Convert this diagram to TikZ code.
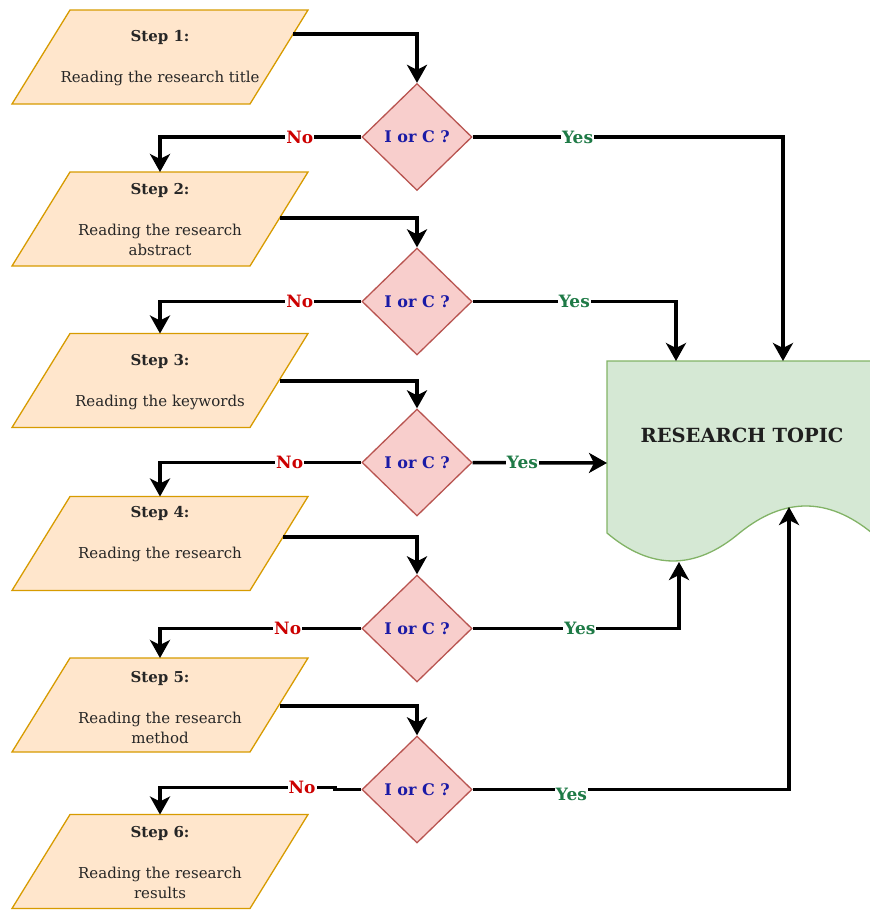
\documentclass[tikz,border=0pt]{standalone}
\usepackage{fontspec}
\setmainfont{DejaVu Serif}
\usetikzlibrary{shapes.geometric,arrows.meta,calc}
\definecolor{stepfill}{HTML}{FFE6CC}
\definecolor{stepline}{HTML}{D79B00}
\definecolor{diafill}{HTML}{F8CECC}
\definecolor{dialine}{HTML}{B85450}
\definecolor{docfill}{HTML}{D5E8D4}
\definecolor{docline}{HTML}{82B366}
\definecolor{nored}{HTML}{CC0000}
\definecolor{yesgreen}{HTML}{1E7A46}
\definecolor{qblue}{HTML}{1A1AA6}
\definecolor{txtgray}{HTML}{262626}
\newcommand\stepshape[5]{% name, cx, cy, text y, text
  \filldraw[stepdraw] (#2-90,#3-47) -- (#2+148,#3-47) -- (#2+90,#3+47) -- (#2-148,#3+47) -- cycle;
  \node[steptext] (#1) at (#2,#4) {#5};}
\begin{document}
\begin{tikzpicture}[x=1pt,y=-1pt,
  stepdraw/.style={fill=stepfill,draw=stepline,line width=1.3pt},
  steptext/.style={align=center,text=txtgray,font=\fontsize{15}{20.5}\selectfont,inner sep=0pt},
  decision/.style={diamond,fill=diafill,draw=dialine,line width=1.3pt,minimum width=110pt,minimum height=107pt,inner sep=0pt,
    text=qblue,font=\fontsize{16}{18}\selectfont\bfseries},
  arr/.style={line width=3.5pt,-{Stealth[length=18pt,width=20pt,inset=5pt]}},
  nolab/.style={fill=white,inner sep=1pt,text=nored,font=\fontsize{17}{18}\selectfont\bfseries},
  yeslab/.style={fill=white,inner sep=1pt,text=yesgreen,font=\fontsize{17}{18}\selectfont\bfseries}]
\useasboundingbox (0,0) rectangle (870,911);

% research topic document
\filldraw[fill=docfill,draw=docline,line width=1.3pt]
  (607,361) -- (872,361) -- (872,533)
  .. controls (828,497) and (783.8,497) .. (739.5,533)
  .. controls (695.2,570.3) and (651,570.3) .. (607,533) -- cycle;
\node[font=\fontsize{19.5}{22}\selectfont\bfseries,text=black!88] (topic) at (742,435) {RESEARCH TOPIC};
\coordinate (tin1) at (783,361);
\coordinate (tin2) at (676,361);
\coordinate (tin3) at (607,463);
\coordinate (tin4) at (679,562);
\coordinate (tin5) at (789,507);

% steps
\stepshape{s1}{160}{57}{58}{\textbf{Step 1:}\\[20.5pt]Reading the research title}
\stepshape{s2}{160}{219}{219.5}{\textbf{Step 2:}\\[20.5pt]Reading the research\\abstract}
\stepshape{s3}{160}{380.5}{382.5}{\textbf{Step 3:}\\[20.5pt]Reading the keywords}
\stepshape{s4}{160}{543.5}{534}{\textbf{Step 4:}\\[20.5pt]Reading the research}
\stepshape{s5}{160}{705}{707.5}{\textbf{Step 5:}\\[20.5pt]Reading the research\\method}
\stepshape{s6}{160}{861.5}{862.5}{\textbf{Step 6:}\\[20.5pt]Reading the research\\results}

\coordinate (s1o) at (293,34);
\coordinate (s2o) at (280,218);
\coordinate (s3o) at (280,381);
\coordinate (s4o) at (283,537);
\coordinate (s5o) at (280,706);
\coordinate (s2t) at (160,172);
\coordinate (s3t) at (160,333.5);
\coordinate (s4t) at (160,496.5);
\coordinate (s5t) at (160,658);
\coordinate (s6t) at (160,814.5);

% decisions
\node[decision] (d1) at (417,137) {I or C ?};
\node[decision] (d2) at (417,301.5) {I or C ?};
\node[decision] (d3) at (417,462.5) {I or C ?};
\node[decision] (d4) at (417,628.5) {I or C ?};
\node[decision] (d5) at (417,789.5) {I or C ?};

% step -> decision
\draw[arr] (s1o) -| (d1.north);
\draw[arr] (s2o) -| (d2.north);
\draw[arr] (s3o) -| (d3.north);
\draw[arr] (s4o) -| (d4.north);
\draw[arr] (s5o) -| (d5.north);

% No branches
\draw[arr] (d1.west) -| node[nolab,pos=0.153] (n1) {No} (s2t);
\draw[arr] (d2.west) -| node[nolab,pos=0.153] (n2) {No} (s3t);
\draw[arr] (d3.west) -| node[nolab,pos=0.178] (n3) {No} (s4t);
\draw[arr] (d4.west) -| node[nolab,pos=0.183] (n4) {No} (s5t);
\coordinate (j5) at (335,787.5);
\draw[arr] (d5.west) -- (d5.west -| j5) -- (j5) -| node[nolab,pos=0.094] (n5) {No} (s6t);

% Yes branches
\draw[arr] (d1.east) -| node[yeslab,pos=0.169] (y1) {Yes} (tin1);
\draw[arr] (d2.east) -| node[yeslab,pos=0.25] (y2) {Yes} (tin2);
\draw[arr] (d3.east) -- node[yeslab,pos=0.37] (y3) {Yes} (tin3);
\draw[arr] (d4.east) -| node[yeslab,pos=0.26] (y4) {Yes} (tin4);
\draw[arr] (d5.east) -| node[yeslab,pos=0.156,yshift=-5pt] (y5) {Yes} (tin5);
\end{tikzpicture}
\end{document}
